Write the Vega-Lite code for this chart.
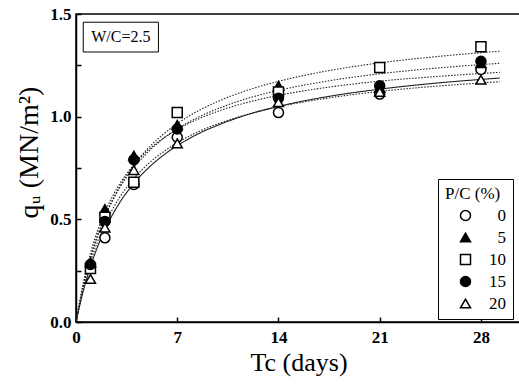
{
  "$schema": "https://vega.github.io/schema/vega-lite/v6.json",
  "autosize": {"type": "none"},
  "width": 445,
  "height": 308,
  "padding": {"left": 76, "top": 14, "right": 0, "bottom": 65},
  "background": "white",
  "config": {
    "view": {"stroke": "black", "strokeWidth": 1.5},
    "font": "Liberation Serif",
    "legend": {
      "orient": "none", "legendX": 362, "legendY": 165,
      "strokeColor": "black", "strokeWidth": 1, "fillColor": "white", "padding": 7,
      "titleFont": "Liberation Serif", "titleFontSize": 17, "titleFontWeight": "normal", "titleColor": "black", "titlePadding": 4,
      "labelFont": "Liberation Serif", "labelFontSize": 17, "labelColor": "black", "labelAlign": "right", "labelOffset": 32,
      "symbolSize": 100, "symbolStrokeWidth": 1.5, "rowPadding": 4, "symbolOffset": 12
    }
  },
  "datasets": {
    "pts": [
      {"pc": "0", "t": 1, "q": 0.27}, {"pc": "0", "t": 2, "q": 0.41}, {"pc": "0", "t": 4, "q": 0.67}, {"pc": "0", "t": 7, "q": 0.90}, {"pc": "0", "t": 14, "q": 1.02}, {"pc": "0", "t": 21, "q": 1.11}, {"pc": "0", "t": 28, "q": 1.23},
      {"pc": "5", "t": 1, "q": 0.29}, {"pc": "5", "t": 2, "q": 0.55}, {"pc": "5", "t": 4, "q": 0.81}, {"pc": "5", "t": 7, "q": 0.96}, {"pc": "5", "t": 14, "q": 1.15}, {"pc": "5", "t": 21, "q": 1.14}, {"pc": "5", "t": 28, "q": 1.26},
      {"pc": "10", "t": 1, "q": 0.26}, {"pc": "10", "t": 2, "q": 0.51}, {"pc": "10", "t": 4, "q": 0.68}, {"pc": "10", "t": 7, "q": 1.02}, {"pc": "10", "t": 14, "q": 1.12}, {"pc": "10", "t": 21, "q": 1.24}, {"pc": "10", "t": 28, "q": 1.34},
      {"pc": "15", "t": 1, "q": 0.28}, {"pc": "15", "t": 2, "q": 0.49}, {"pc": "15", "t": 4, "q": 0.79}, {"pc": "15", "t": 7, "q": 0.94}, {"pc": "15", "t": 14, "q": 1.09}, {"pc": "15", "t": 21, "q": 1.15}, {"pc": "15", "t": 28, "q": 1.27},
      {"pc": "20", "t": 1, "q": 0.21}, {"pc": "20", "t": 2, "q": 0.46}, {"pc": "20", "t": 4, "q": 0.74}, {"pc": "20", "t": 7, "q": 0.87}, {"pc": "20", "t": 14, "q": 1.07}, {"pc": "20", "t": 21, "q": 1.12}, {"pc": "20", "t": 28, "q": 1.18}
    ],
    "fit": [
      {"s": "0", "t": 0, "q": 0}, {"s": "0", "t": 0.5, "q": 0.150}, {"s": "0", "t": 1, "q": 0.270}, {"s": "0", "t": 1.5, "q": 0.368}, {"s": "0", "t": 2, "q": 0.450}, {"s": "0", "t": 3, "q": 0.579}, {"s": "0", "t": 4, "q": 0.675}, {"s": "0", "t": 5, "q": 0.750}, {"s": "0", "t": 6, "q": 0.810}, {"s": "0", "t": 7, "q": 0.859}, {"s": "0", "t": 8.5, "q": 0.918}, {"s": "0", "t": 10, "q": 0.964}, {"s": "0", "t": 12, "q": 1.013}, {"s": "0", "t": 14, "q": 1.050}, {"s": "0", "t": 17, "q": 1.093}, {"s": "0", "t": 21, "q": 1.134}, {"s": "0", "t": 25, "q": 1.164}, {"s": "0", "t": 29.3, "q": 1.188},
      {"s": "10", "t": 0, "q": 0}, {"s": "10", "t": 0.5, "q": 0.173}, {"s": "10", "t": 1, "q": 0.310}, {"s": "10", "t": 1.5, "q": 0.422}, {"s": "10", "t": 2, "q": 0.514}, {"s": "10", "t": 3, "q": 0.657}, {"s": "10", "t": 4, "q": 0.764}, {"s": "10", "t": 5, "q": 0.847}, {"s": "10", "t": 6, "q": 0.912}, {"s": "10", "t": 7, "q": 0.966}, {"s": "10", "t": 8.5, "q": 1.030}, {"s": "10", "t": 10, "q": 1.080}, {"s": "10", "t": 12, "q": 1.132}, {"s": "10", "t": 14, "q": 1.172}, {"s": "10", "t": 17, "q": 1.218}, {"s": "10", "t": 21, "q": 1.262}, {"s": "10", "t": 25, "q": 1.293}, {"s": "10", "t": 29.3, "q": 1.319},
      {"s": "15", "t": 0, "q": 0}, {"s": "15", "t": 0.5, "q": 0.176}, {"s": "15", "t": 1, "q": 0.313}, {"s": "15", "t": 1.5, "q": 0.423}, {"s": "15", "t": 2, "q": 0.513}, {"s": "15", "t": 3, "q": 0.651}, {"s": "15", "t": 4, "q": 0.752}, {"s": "15", "t": 5, "q": 0.829}, {"s": "15", "t": 6, "q": 0.891}, {"s": "15", "t": 7, "q": 0.940}, {"s": "15", "t": 8.5, "q": 0.999}, {"s": "15", "t": 10, "q": 1.044}, {"s": "15", "t": 12, "q": 1.092}, {"s": "15", "t": 14, "q": 1.128}, {"s": "15", "t": 17, "q": 1.169}, {"s": "15", "t": 21, "q": 1.209}, {"s": "15", "t": 25, "q": 1.237}, {"s": "15", "t": 29.3, "q": 1.260},
      {"s": "5", "t": 0, "q": 0}, {"s": "5", "t": 0.5, "q": 0.191}, {"s": "5", "t": 1, "q": 0.335}, {"s": "5", "t": 1.5, "q": 0.447}, {"s": "5", "t": 2, "q": 0.536}, {"s": "5", "t": 3, "q": 0.670}, {"s": "5", "t": 4, "q": 0.766}, {"s": "5", "t": 5, "q": 0.838}, {"s": "5", "t": 6, "q": 0.893}, {"s": "5", "t": 7, "q": 0.938}, {"s": "5", "t": 8.5, "q": 0.990}, {"s": "5", "t": 10, "q": 1.031}, {"s": "5", "t": 12, "q": 1.072}, {"s": "5", "t": 14, "q": 1.104}, {"s": "5", "t": 17, "q": 1.139}, {"s": "5", "t": 21, "q": 1.173}, {"s": "5", "t": 25, "q": 1.196}, {"s": "5", "t": 29.3, "q": 1.216},
      {"s": "20", "t": 0, "q": 0}, {"s": "20", "t": 0.5, "q": 0.164}, {"s": "20", "t": 1, "q": 0.291}, {"s": "20", "t": 1.5, "q": 0.393}, {"s": "20", "t": 2, "q": 0.476}, {"s": "20", "t": 3, "q": 0.605}, {"s": "20", "t": 4, "q": 0.699}, {"s": "20", "t": 5, "q": 0.771}, {"s": "20", "t": 6, "q": 0.827}, {"s": "20", "t": 7, "q": 0.873}, {"s": "20", "t": 8.5, "q": 0.928}, {"s": "20", "t": 10, "q": 0.970}, {"s": "20", "t": 12, "q": 1.014}, {"s": "20", "t": 14, "q": 1.048}, {"s": "20", "t": 17, "q": 1.086}, {"s": "20", "t": 21, "q": 1.123}, {"s": "20", "t": 25, "q": 1.149}, {"s": "20", "t": 29.3, "q": 1.170}
    ],
    "box": [{"x1": 0.5, "x2": 5.7, "y1": 1.315, "y2": 1.46, "label": "W/C=2.5", "xm": 3.1, "ym": 1.388}]
  },
  "layer": [
    {
      "data": {"name": "box"},
      "mark": {"type": "rect", "fill": "white", "stroke": "black", "strokeWidth": 1},
      "encoding": {
        "x": {"field": "x1", "type": "quantitative", "scale": {"domain": [0, 30.77], "nice": false, "zero": false},
          "axis": {"title": "Tc (days)", "values": [0, 7, 14, 21, 28], "format": "d", "tickSize": -5, "tickColor": "black", "tickWidth": 1.5, "domainColor": "black", "domainWidth": 1.5, "grid": false, "labelFont": "Liberation Serif", "labelFontWeight": "bold", "labelFontSize": 17, "labelColor": "black", "labelPadding": 12, "labelFlush": false, "titleFont": "Liberation Serif", "titleFontWeight": "normal", "titleFontSize": 26, "titleColor": "black", "titlePadding": 4}},
        "x2": {"field": "x2"},
        "y": {"field": "y1", "type": "quantitative", "scale": {"domain": [0, 1.5], "nice": false},
          "axis": {"title": "qᵤ (MN/m²)", "values": [0, 0.25, 0.5, 0.75, 1, 1.25, 1.5], "labelExpr": "datum.value % 0.5 === 0 ? format(datum.value, '.1f') : ''", "tickSize": -5, "tickColor": "black", "tickWidth": 1.5, "domainColor": "black", "domainWidth": 1.5, "grid": false, "labelFont": "Liberation Serif", "labelFontWeight": "bold", "labelFontSize": 17, "labelColor": "black", "labelPadding": 10, "labelFlush": false, "titleFont": "Liberation Serif", "titleFontWeight": "normal", "titleFontSize": 28, "titleColor": "black", "titleY": 138, "titlePadding": 6}},
        "y2": {"field": "y2"}
      }
    },
    {
      "data": {"name": "box"},
      "mark": {"type": "text", "font": "Liberation Serif", "fontSize": 16, "color": "black", "align": "center", "baseline": "middle"},
      "encoding": {
        "x": {"field": "xm", "type": "quantitative"},
        "y": {"field": "ym", "type": "quantitative"},
        "text": {"field": "label"}
      }
    },
    {
      "data": {"name": "fit"},
      "mark": {"type": "line", "color": "#222", "strokeWidth": 1.1, "interpolate": "monotone"},
      "encoding": {
        "x": {"field": "t", "type": "quantitative"},
        "y": {"field": "q", "type": "quantitative"},
        "detail": {"field": "s"},
        "strokeDash": {"field": "s", "type": "nominal", "scale": {"domain": ["0", "5", "10", "15", "20"], "range": [[1, 0], [1.5, 1.5], [1.5, 1.5], [1.5, 1.5], [1.5, 1.5]]}, "legend": null}
      }
    },
    {
      "data": {"name": "pts"},
      "mark": {"type": "point", "filled": true, "strokeWidth": 1.5, "opacity": 1, "size": 100},
      "encoding": {
        "x": {"field": "t", "type": "quantitative"},
        "y": {"field": "q", "type": "quantitative"},
        "shape": {"field": "pc", "type": "nominal", "title": "P/C (%)", "scale": {"domain": ["0", "5", "10", "15", "20"], "range": ["circle", "triangle-up", "square", "circle", "triangle-up"]}},
        "fill": {"field": "pc", "type": "nominal", "title": "P/C (%)", "scale": {"domain": ["0", "5", "10", "15", "20"], "range": ["white", "black", "white", "black", "white"]}},
        "stroke": {"field": "pc", "type": "nominal", "title": "P/C (%)", "scale": {"domain": ["0", "5", "10", "15", "20"], "range": ["black", "black", "black", "black", "black"]}}
      }
    }
  ],
  "resolve": {"scale": {"strokeDash": "independent"}}
}
